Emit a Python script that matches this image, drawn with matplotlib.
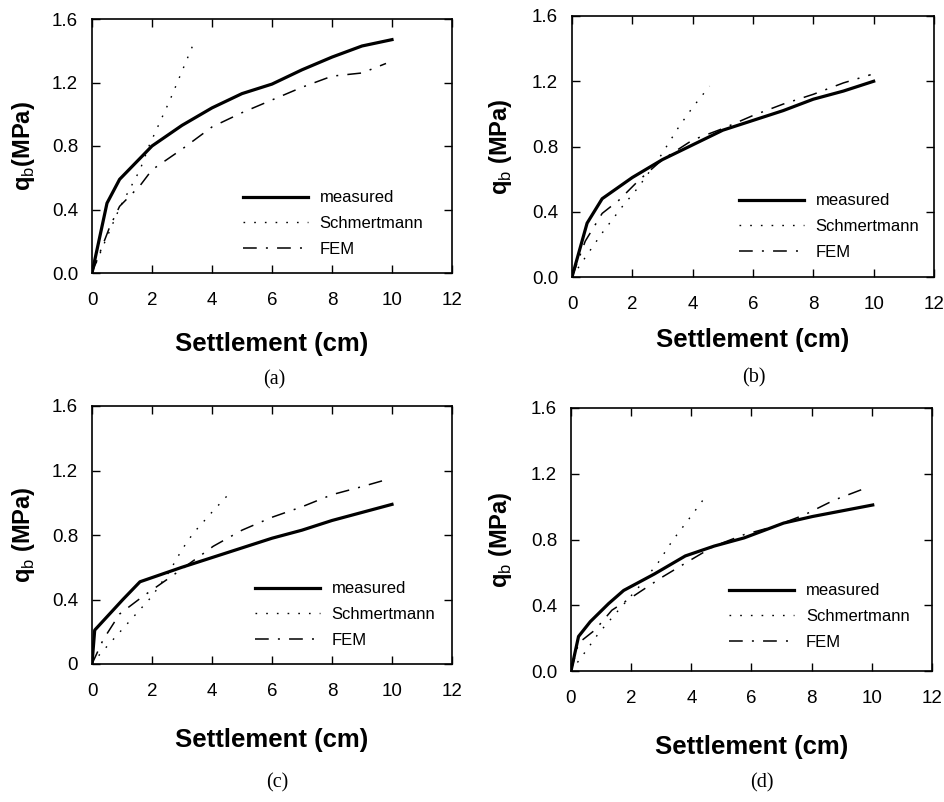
import matplotlib
matplotlib.use("Agg")
import matplotlib.pyplot as plt

plt.rcParams['font.family'] = ['Liberation Sans', 'DejaVu Sans']
plt.rcParams['mathtext.fontset'] = 'custom'
plt.rcParams['mathtext.rm'] = 'Liberation Sans'
plt.rcParams['mathtext.bf'] = 'Liberation Sans:bold'

# ---------------- data ----------------
# Panel (a)
a_meas_x = [0, 0.5, 0.92, 2, 3, 4, 5, 6, 7, 8, 9, 10]
a_meas_y = [0, 0.44, 0.59, 0.80, 0.93, 1.04, 1.13, 1.19, 1.28, 1.36, 1.43, 1.47]
a_sch_x = [0, 0.37, 0.92, 1.6, 1.9, 2.6, 3.44]
a_sch_y = [0, 0.17, 0.41, 0.65, 0.80, 1.09, 1.47]
a_fem_x = [0, 0.59, 0.92, 1.6, 2, 3, 4, 5, 6, 7, 8, 9, 9.8]
a_fem_y = [0, 0.29, 0.42, 0.55, 0.65, 0.78, 0.92, 1.01, 1.09, 1.17, 1.24, 1.26, 1.32]

# Panel (b)
b_meas_x = [0, 0.5, 1, 2, 3, 4, 5, 6, 7, 8, 9, 10]
b_meas_y = [0, 0.33, 0.48, 0.61, 0.72, 0.81, 0.90, 0.96, 1.02, 1.09, 1.14, 1.20]
b_sch_x = [0, 0.44, 1, 1.66, 2.2, 2.93, 3.54, 4, 4.56]
b_sch_y = [0, 0.12, 0.27, 0.43, 0.55, 0.74, 0.92, 1.04, 1.17]
b_fem_x = [0, 0.44, 1, 1.55, 2.2, 3, 4, 5, 6, 7, 8, 9, 9.9]
b_fem_y = [0, 0.22, 0.39, 0.47, 0.59, 0.72, 0.84, 0.91, 0.99, 1.06, 1.12, 1.19, 1.24]

# Panel (c)
c_meas_x = [0, 0.09, 1.03, 1.6, 3, 4, 5, 6, 7, 8, 9, 10]
c_meas_y = [0, 0.21, 0.40, 0.51, 0.60, 0.66, 0.72, 0.78, 0.83, 0.89, 0.94, 0.99]
c_sch_x = [0, 0.26, 0.6, 1.37, 2, 2.6, 3, 3.37, 4.04, 4.49]
c_sch_y = [0, 0.06, 0.13, 0.29, 0.42, 0.58, 0.71, 0.81, 0.95, 1.04]
c_fem_x = [0, 0.37, 0.92, 1.7, 2.7, 3.6, 4.04, 5, 6, 7, 8, 9, 9.94]
c_fem_y = [0, 0.15, 0.31, 0.42, 0.55, 0.67, 0.73, 0.83, 0.91, 0.975, 1.05, 1.10, 1.15]

# Panel (d)
d_meas_x = [0, 0.25, 0.64, 1.25, 1.75, 2.77, 3.8, 4.76, 5.76, 7.07, 8.03, 9.03, 10.03]
d_meas_y = [0, 0.21, 0.30, 0.41, 0.49, 0.59, 0.70, 0.76, 0.81, 0.90, 0.94, 0.975, 1.01]
d_sch_x = [0, 0.37, 0.92, 1.58, 2.25, 2.9, 3.36, 3.9, 4.55]
d_sch_y = [0, 0.09, 0.23, 0.37, 0.51, 0.66, 0.79, 0.92, 1.08]
d_fem_x = [0, 0.25, 0.8, 1.36, 2.03, 3.02, 4.02, 4.76, 5.76, 6.76, 7.76, 8.75, 9.9]
d_fem_y = [0, 0.17, 0.25, 0.37, 0.45, 0.57, 0.68, 0.76, 0.83, 0.88, 0.95, 1.04, 1.12]

series_labels = ['measured', 'Schmertmann', 'FEM']
x_ticks = [0, 2, 4, 6, 8, 10, 12]
y_ticks = [0.0, 0.4, 0.8, 1.2, 1.6]
y_ticklabels_std = ['0.0', '0.4', '0.8', '1.2', '1.6']
y_ticklabels_c = ['0', '0.4', '0.8', '1.2', '1.6']
captions = ['(a)', '(b)', '(c)', '(d)']
xlabel = 'Settlement (cm)'
ylabels = [r'$\mathbf{q}_{\mathrm{b}}$(MPa)', r'$\mathbf{q}_{\mathrm{b}}$ (MPa)',
           r'$\mathbf{q}_{\mathrm{b}}$ (MPa)', r'$\mathbf{q}_{\mathrm{b}}$ (MPa)']

panels = [
    (a_meas_x, a_meas_y, a_sch_x, a_sch_y, a_fem_x, a_fem_y),
    (b_meas_x, b_meas_y, b_sch_x, b_sch_y, b_fem_x, b_fem_y),
    (c_meas_x, c_meas_y, c_sch_x, c_sch_y, c_fem_x, c_fem_y),
    (d_meas_x, d_meas_y, d_sch_x, d_sch_y, d_fem_x, d_fem_y),
]

# ---------------- layout ----------------
W, H = 945, 802
fig = plt.figure(figsize=(W / 100, H / 100), dpi=100)

# axes boxes in pixels: left, top, right, bottom
boxes = [(92, 19, 452, 273), (572, 16, 934, 277), (92, 406, 452, 664), (571, 408, 932, 671)]
ylab_x = [-0.153, -0.16, -0.153, -0.158]
xlab_y = [-0.232, -0.195, -0.248, -0.243]
leg_pos = [(0.419, 0.30), (0.461, 0.295), (0.453, 0.295), (0.438, 0.308)]
cap_pos = [(274, 380), (754, 378), (277, 783), (762, 783)]

for i, (box, data) in enumerate(zip(boxes, panels)):
    l, t, r, b = box
    ax = fig.add_axes([l / W, (H - b) / H, (r - l) / W, (b - t) / H])
    mx, my, sx, sy, fx, fy = data
    ax.plot(mx, my, color='black', lw=2.3, solid_joinstyle='round', label=series_labels[0])
    ax.plot(sx, sy, color='black', lw=1.0, linestyle=(0, (1.2, 6.5)), label=series_labels[1])
    ax.plot(fx, fy, color='black', lw=1.1, linestyle=(0, (9, 6, 1.3, 6)), label=series_labels[2])
    ax.set_xlim(0, 12)
    ax.set_ylim(0, 1.6)
    ax.set_xticks(x_ticks)
    ax.set_xticklabels([str(v) for v in x_ticks])
    ax.set_yticks(y_ticks)
    ax.set_yticklabels(y_ticklabels_c if i == 2 else y_ticklabels_std)
    ax.tick_params(direction='in', top=True, right=True, length=6, width=1.0,
                   labelsize=13.5)
    ax.tick_params(axis='x', pad=14)
    ax.tick_params(axis='y', pad=10)
    for sp in ax.spines.values():
        sp.set_linewidth(1.2)
    ax.set_xlabel(xlabel, fontsize=18.5, fontweight='bold')
    ax.xaxis.set_label_coords(0.5, xlab_y[i])
    ax.set_ylabel(ylabels[i], fontsize=17, fontweight='bold')
    ax.yaxis.set_label_coords(ylab_x[i], 0.5)
    lx, ly = leg_pos[i]
    ax.legend(loc='upper left', bbox_to_anchor=(lx, ly + 0.025), frameon=False,
              fontsize=12, handlelength=3.9, handletextpad=0.7, borderpad=0,
              borderaxespad=0, labelspacing=0.65)
    cx, cy = cap_pos[i]
    fig.text(cx / W, (H - cy) / H, captions[i], ha='center', va='center',
             fontsize=14.5, family=['Liberation Serif', 'DejaVu Serif'])

fig.savefig('out.png', dpi=100)
